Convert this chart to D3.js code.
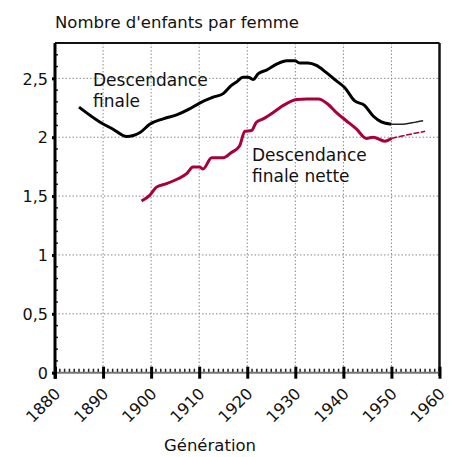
<!DOCTYPE html>
<html><head><meta charset="utf-8">
<script src="https://cdn.jsdelivr.net/npm/d3@7"></script>
<style>body{margin:0;background:#fff}svg{display:block}text{font-family:"DejaVu Sans",Verdana,sans-serif;fill:#111}</style>
</head><body><svg id="c" width="452" height="457"></svg>
<script>
const xTicks=[1880,1890,1900,1910,1920,1930,1940,1950,1960];
const yTicks=[0,0.5,1,1.5,2,2.5];
const yTickLabels=["0","0,5","1","1,5","2","2,5"];
// Descendance finale (thick part)
const finaleYears=[1885,1889.4,1892,1894.9,1897.7,1899.7,1902.5,1905.3,1908,1910.1,1912.9,1915,1916.7,1917.8,1919.1,1920.2,1921.2,1922.3,1924,1926.1,1928.2,1929.9,1930.9,1932.6,1934.4,1936.4,1938.5,1940.3,1942.3,1944.4,1946.2,1947.9,1950];
const finaleVals=[2.255,2.127,2.07,2.006,2.04,2.11,2.156,2.19,2.24,2.29,2.34,2.37,2.44,2.47,2.51,2.51,2.49,2.54,2.57,2.62,2.65,2.65,2.63,2.63,2.61,2.55,2.48,2.42,2.31,2.27,2.18,2.13,2.11];
// Descendance finale (projection, thin)
const finaleProjYears=[1950,1952.4,1955.2,1956.6];
const finaleProjVals=[2.11,2.11,2.13,2.14];
// Descendance finale nette (thick part)
const netteYears=[1898,1899.7,1901.1,1903.2,1905.6,1907.4,1908.7,1910.1,1910.8,1912.6,1915,1916.7,1918.4,1919.5,1920.9,1921.9,1923.3,1925.4,1927.5,1930.3,1932.4,1934.8,1936.8,1938.5,1940.6,1942.7,1944.8,1946.2,1948.6,1950];
const netteVals=[1.458,1.506,1.576,1.605,1.647,1.69,1.746,1.746,1.73,1.825,1.825,1.87,1.925,2.05,2.057,2.127,2.156,2.21,2.27,2.32,2.325,2.325,2.28,2.21,2.14,2.07,1.99,2.0,1.966,1.99];
// Descendance finale nette (projection, thin)
const netteProjYears=[1950,1951.7,1954.5,1957];
const netteProjVals=[1.99,2.006,2.03,2.05];

const svg=d3.select("#c");
const L=55,R=439.5,T=43,B=372.7;
const x=d3.scaleLinear().domain([1880,1960]).range([L,R]);
const y=d3.scaleLinear().domain([0,2.8]).range([B,T]);

// grid
const g=svg.append("g");
g.selectAll(".gx").data(xTicks.slice(1,-1)).join("line")
 .attr("x1",d=>x(d)).attr("x2",d=>x(d)).attr("y1",T).attr("y2",B)
 .attr("stroke","#888").attr("stroke-width",1).attr("stroke-dasharray","1.5,2");
g.selectAll(".gy").data(yTicks.slice(1)).join("line")
 .attr("x1",L).attr("x2",R).attr("y1",d=>y(d)).attr("y2",d=>y(d))
 .attr("stroke","#888").attr("stroke-width",1).attr("stroke-dasharray","1.5,2");

// minor ticks
svg.append("g").selectAll("line").data(d3.range(1881,1960).filter(v=>v%10)).join("line")
 .attr("x1",d=>x(d)).attr("x2",d=>x(d)).attr("y1",B).attr("y2",B-4)
 .attr("stroke","#222").attr("stroke-width",1.5);
svg.append("g").selectAll("line").data(d3.range(1,28).filter(v=>v%5).map(v=>v/10)).join("line")
 .attr("x1",L).attr("x2",L+3).attr("y1",d=>y(d)).attr("y2",d=>y(d))
 .attr("stroke","#222").attr("stroke-width",1.5);

// frame
svg.append("line").attr("x1",L).attr("x2",R).attr("y1",T).attr("y2",T).attr("stroke","#111").attr("stroke-width",2);
svg.append("line").attr("x1",R).attr("x2",R).attr("y1",T).attr("y2",B+3).attr("stroke","#111").attr("stroke-width",2.5);
svg.append("line").attr("x1",L).attr("x2",R).attr("y1",B).attr("y2",B).attr("stroke","#777").attr("stroke-width",2);

// axes
const xAxis=d3.axisBottom(x).tickValues(xTicks).tickSize(5).tickFormat(d3.format("d"));
const xg=svg.append("g").attr("transform",`translate(0,${B})`).call(xAxis);
xg.select(".domain").remove();
xg.selectAll(".tick line").attr("y1",-6).attr("y2",6).attr("stroke","#000").attr("stroke-width",3);
xg.selectAll(".tick text").attr("font-size",16).attr("fill","#111")
 .attr("text-anchor","end").attr("dy",0).attr("y",0)
 .attr("transform","translate(6,22) rotate(-45)");

const yAxis=d3.axisLeft(y).tickValues(yTicks).tickSize(3).tickFormat((d,i)=>yTickLabels[i]);
const yg=svg.append("g").attr("transform",`translate(${L},0)`).call(yAxis);
yg.select(".domain").attr("stroke","#000").attr("stroke-width",3).attr("d",`M0,${T}V${B+6}`);
yg.selectAll(".tick line").attr("stroke","#000").attr("stroke-width",3);
yg.selectAll(".tick text").attr("font-size",16).attr("fill","#111").attr("x",-7).attr("dy","0.36em");

// lines
const line=d3.line().x(d=>x(d[0])).y(d=>y(d[1])).curve(d3.curveMonotoneX);
const z=(a,b)=>a.map((v,i)=>[v,b[i]]);
svg.append("path").attr("d",line(z(finaleYears,finaleVals))).attr("fill","none").attr("stroke","#000").attr("stroke-width",3);
svg.append("path").attr("d",line(z(finaleProjYears,finaleProjVals))).attr("fill","none").attr("stroke","#222").attr("stroke-width",1.5);
svg.append("path").attr("d",line(z(netteYears,netteVals))).attr("fill","none").attr("stroke","#a8003c").attr("stroke-width",3);
svg.append("path").attr("d",line(z(netteProjYears,netteProjVals))).attr("fill","none").attr("stroke","#a8003c").attr("stroke-width",1.5).attr("stroke-dasharray","6,1.5");

// labels
svg.append("text").attr("x",55).attr("y",28).attr("font-size",16.5).text("Nombre d'enfants par femme");
const t1=svg.append("text").attr("x",93).attr("font-size",17);
t1.append("tspan").attr("x",93).attr("y",86).text("Descendance");
t1.append("tspan").attr("x",93).attr("y",107).text("finale");
const t2=svg.append("text").attr("font-size",17);
t2.append("tspan").attr("x",252).attr("y",161).text("Descendance");
t2.append("tspan").attr("x",252).attr("y",182).text("finale nette");
svg.append("text").attr("x",210).attr("y",451).attr("text-anchor","middle").attr("font-size",16.5).text("Génération");
</script></body></html>
